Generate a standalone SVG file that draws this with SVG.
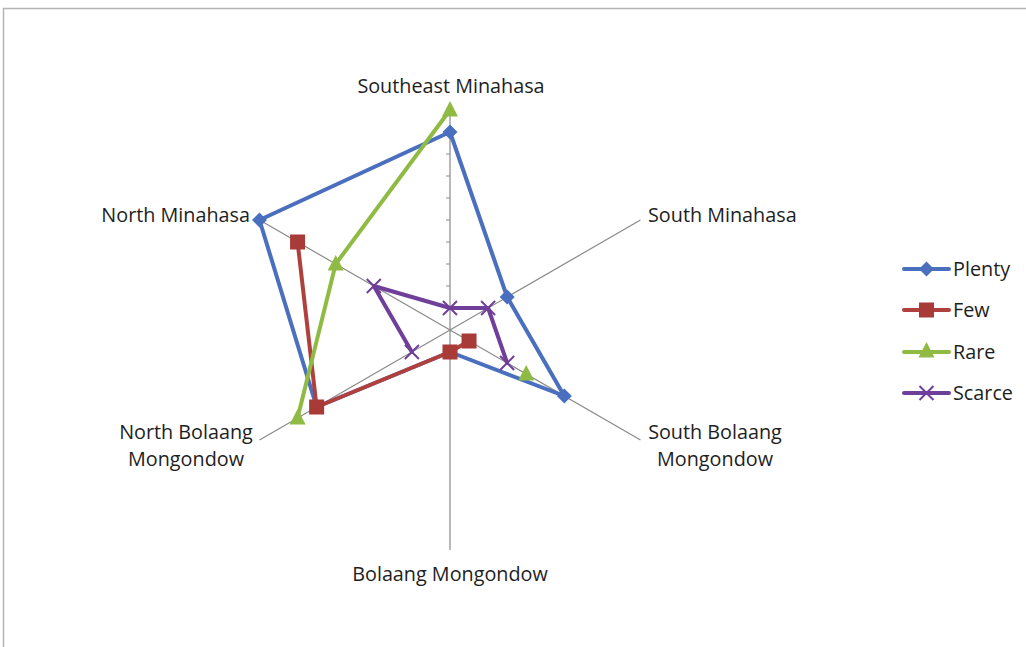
<svg xmlns="http://www.w3.org/2000/svg" xmlns:xlink="http://www.w3.org/1999/xlink" width="1026" height="647" viewBox="0 0 1026 647">
<style>
.lbl{font-family:"Open Sans","Liberation Sans",sans-serif;font-size:19.8px;fill:#1e1e1e}
.axis{stroke:#8a8a8a;stroke-width:1.2;fill:none}
.s{fill:none;stroke-width:4;stroke-linejoin:round;stroke-linecap:round}
.plenty{stroke:#4a6fbf}.few{stroke:#b0403d}.rare{stroke:#8fbb44}.scarce{stroke:#6f3f9a}
</style>
<defs>
<path id="dia" d="M0,-7.5L7.5,0L0,7.5L-7.5,0Z" fill="#4a6fbf"/>
<rect id="sq" x="-7.5" y="-7.5" width="15" height="15" fill="#a83b38"/>
<path id="tri" d="M0,-9L8,6.5L-8,6.5Z" fill="#8fbb44"/>
<path id="ex" d="M-7,-7L7,7M-7,7L7,-7" stroke="#6f3f9a" stroke-width="2" fill="none"/>
</defs>
<rect width="1026" height="647" fill="#fff"/>
<path d="M3.5,647V8.5H1026" stroke="#b4b4b4" stroke-width="1.5" fill="none"/>
<g id="axes">
<path class="axis" d="M450,330V110M450,330L640.5,220M450,330L640.5,440M450,330V550M450,330L259.5,440M450,330L259.5,220"/>
<path class="axis" d="M446,308h4M446,286h4M446,264h4M446,242h4M446,220h4M446,198h4M446,176h4M446,154h4M446,132h4M446,110h4"/>
</g>
<g id="connectors">
<path class="s plenty" d="M450,132L507.16,297L564.32,396L450,352L316.63,407L259.47,220Z"/>
<path class="s few" d="M469.05,341L450,352L316.63,407L297.58,242"/>
<path class="s rare" d="M297.58,418L335.68,264L450,110"/>
<path class="s scarce" d="M411.9,352L373.79,286L450,308L488.1,308L507.16,363"/>
</g>
<g id="plenty">
<use xlink:href="#dia" x="450" y="132"/><use xlink:href="#dia" x="507.16" y="297"/><use xlink:href="#dia" x="564.32" y="396"/><use xlink:href="#dia" x="450" y="352"/><use xlink:href="#dia" x="316.63" y="407"/><use xlink:href="#dia" x="259.47" y="220"/>
</g>
<g id="few">
<use xlink:href="#sq" x="469.05" y="341"/><use xlink:href="#sq" x="450" y="352"/><use xlink:href="#sq" x="316.63" y="407"/><use xlink:href="#sq" x="297.58" y="242"/>
</g>
<g id="rare">
<use xlink:href="#tri" x="450" y="110"/><use xlink:href="#tri" x="526.21" y="374"/><use xlink:href="#tri" x="297.58" y="418"/><use xlink:href="#tri" x="335.68" y="264"/>
</g>
<g id="scarce">
<use xlink:href="#ex" x="450" y="308"/><use xlink:href="#ex" x="488.1" y="308"/><use xlink:href="#ex" x="507.16" y="363"/><use xlink:href="#ex" x="411.9" y="352"/><use xlink:href="#ex" x="373.79" y="286"/>
</g>
<g id="labels">
<text class="lbl" x="451" y="93" text-anchor="middle">Southeast Minahasa</text>
<text class="lbl" x="250" y="222" text-anchor="end">North Minahasa</text>
<text class="lbl" x="648" y="222">South Minahasa</text>
<text class="lbl" x="715" y="439" text-anchor="middle">South Bolaang</text>
<text class="lbl" x="715" y="466" text-anchor="middle">Mongondow</text>
<text class="lbl" x="186" y="439" text-anchor="middle">North Bolaang</text>
<text class="lbl" x="186" y="466" text-anchor="middle">Mongondow</text>
<text class="lbl" x="450" y="581" text-anchor="middle">Bolaang Mongondow</text>
</g>
<g id="legend">
<path class="s plenty" d="M904,269H949"/><use xlink:href="#dia" x="926.5" y="269"/>
<text class="lbl" x="953" y="276">Plenty</text>
<path class="s few" d="M904,310H949"/><use xlink:href="#sq" x="926.5" y="310"/>
<text class="lbl" x="953" y="317">Few</text>
<path class="s rare" d="M904,352H949"/><use xlink:href="#tri" x="926.5" y="351"/>
<text class="lbl" x="953" y="359">Rare</text>
<path class="s scarce" d="M904,393H949"/><use xlink:href="#ex" x="926.5" y="393"/>
<text class="lbl" x="953" y="400">Scarce</text>
</g>
</svg>
